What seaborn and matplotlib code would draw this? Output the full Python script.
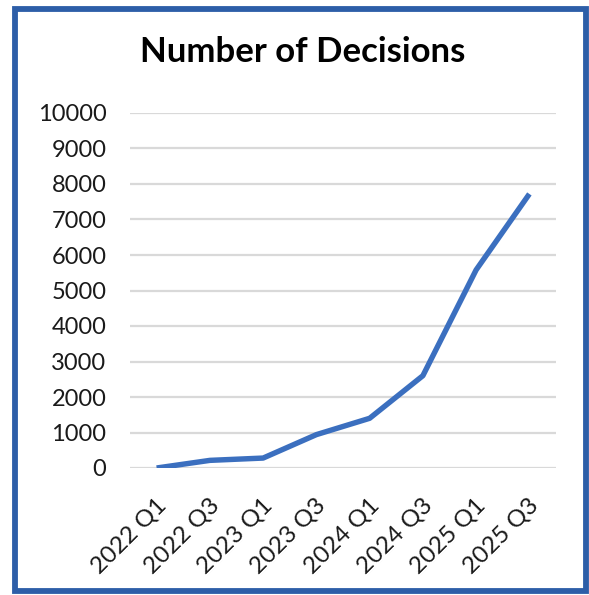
import matplotlib
matplotlib.use("Agg")
import matplotlib.pyplot as plt
import matplotlib.transforms as mtransforms
import seaborn as sns
import pandas as pd
from matplotlib.patches import Rectangle

quarters = ["2022 Q1", "2022 Q3", "2023 Q1", "2023 Q3", "2024 Q1", "2024 Q3", "2025 Q1", "2025 Q3"]
decisions = [0, 215, 280, 940, 1400, 2600, 5580, 7720]
yticks = [0, 1000, 2000, 3000, 4000, 5000, 6000, 7000, 8000, 9000, 10000]

sns.set_theme(style="white")
plt.rcParams['font.family'] = ['Lato', 'DejaVu Sans']

df = pd.DataFrame({"quarter": quarters, "decisions": decisions})

fig = plt.figure(figsize=(5.89, 5.95), dpi=100)
ax = fig.add_axes([130/589, 127/595, 426/589, 355/595])

sns.lineplot(data=df, x="quarter", y="decisions", ax=ax, color="#3B6FBF",
             linewidth=3.9, solid_joinstyle="round", solid_capstyle="butt", sort=False)

ax.set_xlim(-0.5, len(quarters) - 0.5)
ax.set_ylim(0, 10000)
ax.set_yticks(yticks)
ax.set_yticklabels([str(v) for v in yticks], fontsize=17, color="#1a1a1a")
ax.set_xticks(range(len(quarters)))
ax.set_xticklabels(quarters, rotation=45, ha="right", va="center", rotation_mode="anchor",
                   fontsize=17.5, color="#1a1a1a")
ax.tick_params(axis="x", length=0, pad=22)
ax.tick_params(axis="y", length=0, pad=17)
offset = mtransforms.ScaledTranslation(6/100, -3/100, fig.dpi_scale_trans)
for lbl in ax.get_xticklabels():
    lbl.set_transform(lbl.get_transform() + offset)
ax.set_xlabel("")
ax.set_ylabel("")
for s in ax.spines.values():
    s.set_visible(False)
ax.yaxis.grid(True, color="#D9D9D9", linewidth=1.6)
ax.xaxis.grid(False)
ax.set_axisbelow(True)

fig.text(303/589, 1 - 52/595, "Number of Decisions", ha="center", va="center",
         fontsize=25, fontweight="bold", color="black")

fig.patches.append(Rectangle((14.5/589, 4/595), 571/589, 582/595, transform=fig.transFigure,
                             fill=False, edgecolor="#2D5EA8", linewidth=4.2))

fig.savefig("out.png", dpi=100)
